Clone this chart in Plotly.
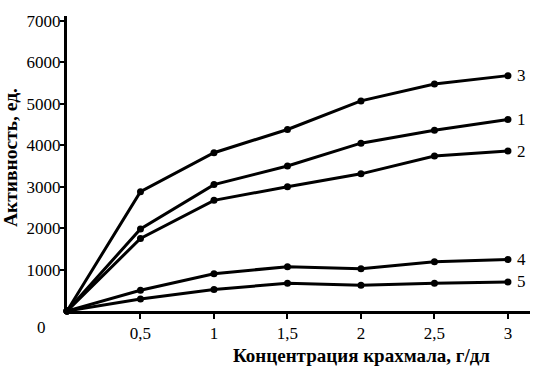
import plotly.graph_objects as go

x_vals = [0, 0.5, 1, 1.5, 2, 2.5, 3]
x_tick_vals = [0.5, 1, 1.5, 2, 2.5, 3]
x_tick_text = ["0,5", "1", "1,5", "2", "2,5", "3"]
y_tick_vals = [1000, 2000, 3000, 4000, 5000, 6000, 7000]

series_names = ["1", "2", "3", "4", "5"]
s1 = [0, 1980, 3050, 3500, 4050, 4360, 4620]
s2 = [0, 1750, 2670, 3000, 3310, 3740, 3860]
s3 = [0, 2880, 3820, 4380, 5070, 5480, 5680]
s4 = [0, 500, 900, 1070, 1020, 1190, 1240]
s5 = [0, 290, 520, 670, 620, 670, 700]
series_values = [s1, s2, s3, s4, s5]

font_family = "Liberation Serif"

fig = go.Figure()
for name, vals in zip(series_names, series_values):
    fig.add_trace(go.Scatter(
        x=x_vals, y=vals, mode="lines+markers", name=name,
        line=dict(color="black", width=3),
        marker=dict(color="black", size=7),
        showlegend=False, cliponaxis=False,
    ))
    fig.add_annotation(x=x_vals[-1], y=vals[-1], text=name, showarrow=False,
                       xshift=14, xanchor="center", yanchor="middle",
                       font=dict(family=font_family, size=17, color="black"))

fig.add_annotation(xref="paper", yref="paper", x=-0.054, y=-0.057, text="0",
                   showarrow=False, xanchor="center", yanchor="middle",
                   font=dict(family=font_family, size=17, color="black"))
fig.add_annotation(xref="paper", yref="paper", x=-0.122, y=0.52,
                   text="<b>Активность, ед.</b>", textangle=-90, showarrow=False,
                   xanchor="center", yanchor="middle",
                   font=dict(family=font_family, size=19.5, color="black"))
fig.add_annotation(xref="paper", yref="paper", x=0.637, y=-0.152,
                   text="<b>Концентрация крахмала, г/дл</b>", showarrow=False,
                   xanchor="center", yanchor="middle",
                   font=dict(family=font_family, size=19, color="black"))

fig.update_xaxes(range=[0, 3.15], tickvals=x_tick_vals, ticktext=x_tick_text,
                 showgrid=False, zeroline=False, showline=True, linecolor="black",
                 linewidth=3, ticks="outside", ticklen=5, tickwidth=2, tickcolor="black",
                 tickfont=dict(family=font_family, size=17, color="black"))
fig.update_yaxes(range=[0, 7119], tickvals=y_tick_vals,
                 showgrid=False, zeroline=False, showline=True, linecolor="black",
                 linewidth=3, ticks="outside", ticklen=4, tickwidth=2, tickcolor="black",
                 ticklabelstandoff=-4, ticklabeloverflow="allow",
                 tickfont=dict(family=font_family, size=17, color="black"))

fig.update_layout(width=544, height=367, margin=dict(l=67, r=14, t=12, b=56),
                  plot_bgcolor="white", paper_bgcolor="white",
                  font=dict(family=font_family, color="black"))

fig.write_html("out.html", config={"displayModeBar": False},
               post_script="document.body.style.margin='0';document.body.style.overflow='hidden';")
